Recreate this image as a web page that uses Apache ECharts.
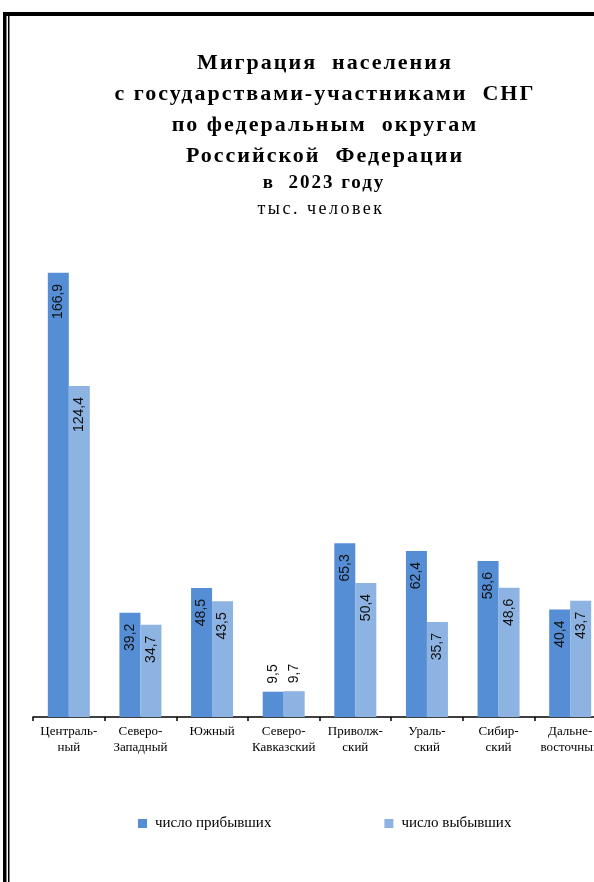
<!DOCTYPE html>
<html>
<head>
<meta charset="utf-8">
<script src="https://cdn.jsdelivr.net/npm/echarts@6/dist/echarts.min.js"></script>
<style>
  html, body { margin: 0; padding: 0; background: #fff; }
  #chart { width: 594px; height: 882px; }
</style>
</head>
<body>
<div id="chart"></div>
<script>
// округа
const districts = ['Централь-\nный', 'Северо-\nЗападный', 'Южный', 'Северо-\nКавказский',
  'Приволж-\nский', 'Ураль-\nский', 'Сибир-\nский', 'Дальне-\nвосточный']
// тыс. человек
const arrived = [166.9, 39.2, 48.5, 9.5, 65.3, 62.4, 58.6, 40.4]
const departed = [124.4, 34.7, 43.5, 9.7, 50.4, 35.7, 48.6, 43.7]

const titleLines = ['Миграция  населения', 'с государствами-участниками  СНГ',
  'по федеральным  округам', 'Российской  Федерации']
const yearLine = 'в  2023 году'
const unitLine = 'тыс. человек'

const serif = '"Liberation Serif", "Times New Roman", serif'
const sans = '"Liberation Sans", Arial, sans-serif'

// заголовок в оригинале набран вразрядку: добавляем межбуквенный интервал
// для крупного шрифта заголовка (canvas letterSpacing)
const origFillText = CanvasRenderingContext2D.prototype.fillText
CanvasRenderingContext2D.prototype.fillText = function (t, x, y, w) {
  const f = this.font
  let ls = null
  if (/\b22px/.test(f) || /\b19px/.test(f)) ls = '2px'
  else if (/\b18px/.test(f)) ls = '2.5px'
  if (ls && 'letterSpacing' in this) {
    const prev = this.letterSpacing
    this.letterSpacing = ls
    const r = w === undefined ? origFillText.call(this, t, x, y) : origFillText.call(this, t, x, y, w)
    this.letterSpacing = prev
    return r
  }
  return w === undefined ? origFillText.call(this, t, x, y) : origFillText.call(this, t, x, y, w)
}

function fmt(v) {
  return String(v.toFixed(1)).replace('.', ',')
}

// маленькие столбики подписываем сверху, остальные — внутри
function barData(arr) {
  return arr.map(v => {
    if (v < 20) {
      return { value: v, label: { position: 'top', align: 'left', distance: 8 } }
    }
    return v
  })
}

const chart = echarts.init(document.getElementById('chart'))

const barLabel = {
  show: true,
  position: 'insideTop',
  rotate: 90,
  align: 'right',
  verticalAlign: 'middle',
  distance: 11,
  fontFamily: sans,
  fontSize: 14,
  color: '#111',
  formatter: p => fmt(p.value)
}

chart.setOption({
  animation: false,
  title: [
    {
      text: titleLines.join('\n'),
      left: 320,
      top: 43,
      textAlign: 'center',
      textStyle: { fontFamily: serif, fontWeight: 'bold', fontSize: 22, lineHeight: 31, color: '#000' }
    },
    {
      text: yearLine,
      left: 319,
      top: 169,
      textAlign: 'center',
      textStyle: { fontFamily: serif, fontWeight: 'bold', fontSize: 19, color: '#000' }
    },
    {
      text: unitLine,
      left: 316,
      top: 195,
      textAlign: 'center',
      textStyle: { fontFamily: serif, fontWeight: 'normal', fontSize: 18, color: '#000' }
    }
  ],
  legend: {
    left: 133,
    top: 811,
    itemWidth: 9,
    itemHeight: 9,
    itemGap: 113,
    icon: 'rect',
    textStyle: { fontFamily: serif, fontSize: 15, color: '#000', padding: [0, 0, 0, 3] },
    data: ['число прибывших', 'число выбывших']
  },
  grid: {
    left: 33,
    right: -12,
    top: 238,
    bottom: 165,
    containLabel: false,
    outerBoundsMode: 'none'
  },
  xAxis: {
    type: 'category',
    data: districts,
    axisLine: { lineStyle: { color: '#000', width: 1.5 } },
    axisTick: { show: true, length: 4, lineStyle: { color: '#000', width: 1.5 } },
    axisLabel: {
      interval: 0,
      margin: 7,
      fontFamily: serif,
      fontSize: 13,
      lineHeight: 16,
      color: '#000'
    }
  },
  yAxis: {
    type: 'value',
    min: 0,
    max: 180,
    show: false,
    splitLine: { show: false }
  },
  series: [
    {
      name: 'число прибывших',
      type: 'bar',
      data: barData(arrived),
      barWidth: 21,
      barGap: '0%',
      itemStyle: { color: '#558ed5' },
      label: barLabel
    },
    {
      name: 'число выбывших',
      type: 'bar',
      data: barData(departed),
      barWidth: 21,
      itemStyle: { color: '#8db3e2' },
      label: barLabel
    }
  ],
  graphic: [
    // рамка страницы
    { type: 'rect', shape: { x: 3, y: 12, width: 591, height: 4 }, style: { fill: '#000' } },
    { type: 'rect', shape: { x: 3, y: 12, width: 3.5, height: 870 }, style: { fill: '#000' } },
    { type: 'rect', shape: { x: 8, y: 16, width: 1.5, height: 866 }, style: { fill: '#000' } }
  ]
})
</script>
</body>
</html>
